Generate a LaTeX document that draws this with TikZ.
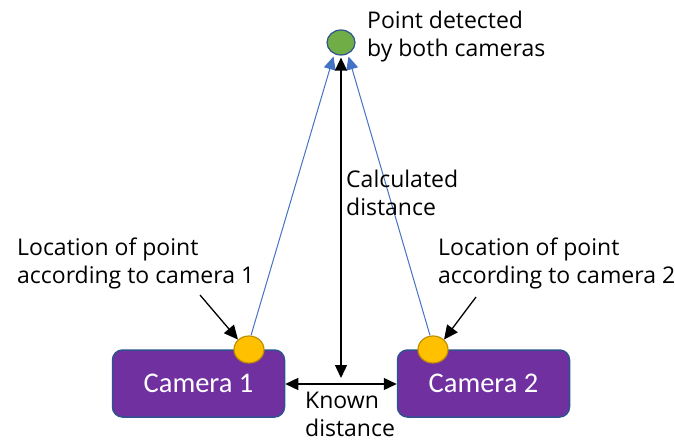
\documentclass[tikz,border=0pt]{standalone}
\usepackage{fontspec}
\usetikzlibrary{arrows.meta,shapes.geometric,calc}
\newfontfamily\labfont{Open Sans}
\newfontfamily\camfont{Carlito}
\definecolor{campurple}{HTML}{7030A0}
\definecolor{edgeblue}{HTML}{2F528F}
\definecolor{rayblue}{HTML}{4472C4}
\definecolor{dotorange}{HTML}{FFC000}
\definecolor{dotedge}{HTML}{BF9000}
\definecolor{ptgreen}{HTML}{70AD47}
\tikzset{
  camera/.style={draw=edgeblue, line width=1.5pt, fill=campurple, rounded corners=10pt,
    minimum width=172pt, minimum height=67pt, text=white,
    font=\camfont\fontsize{28.5}{32}\selectfont},
  dot/.style={ellipse, draw=dotedge, line width=1.2pt, fill=dotorange,
    minimum width=30pt, minimum height=27pt, inner sep=0pt},
  target/.style={ellipse, draw=edgeblue, line width=1.2pt, fill=ptgreen,
    minimum width=28pt, minimum height=25pt, inner sep=0pt},
  % multi-line labels: the base anchor sits on the last line
  label/.style={font=\labfont\fontsize{23}{28}\selectfont, align=left, inner sep=0pt, anchor=base west},
  ray/.style={draw=rayblue, line width=1pt, -{Triangle[width=12pt,length=13pt]}},
  measure/.style={draw=black, line width=1.3pt, {Triangle[width=12pt,length=13pt]}-{Triangle[width=12pt,length=13pt]}},
  pointer/.style={draw=black, line width=1.3pt, -{Triangle[width=13pt,length=14pt]}}
}
\begin{document}
\begin{tikzpicture}[x=1pt,y=-1pt]
\useasboundingbox (0,0) rectangle (675,442);

% cameras
\node[camera] (cam1) at (198.5,383.5) {Camera 1};
\node[camera] (cam2) at (483.5,383.5) {Camera 2};

% detected locations on top of each camera
\node[dot] (o1) at (249,349.5) {};
\node[dot] (o2) at (433,349.5) {};

% the point seen by both cameras
\node[target] (pt) at (341,42.5) {};

% rays from each camera to the point
\coordinate (tipL) at (333.5,56.5);
\coordinate (tipR) at (348.5,56.5);
\draw[ray] ($(o1.north)+(2,0)$) -- (tipL);
\draw[ray] ($(o2.north)+(-3,0)$) -- (tipR);

% distances
\coordinate (base) at (341,378);
\draw[measure] (cam1.east |- 0,384) -- (cam2.west |- 0,384);
\draw[measure] ($(pt.south)+(0,2)$) -- (base);

% labels
\node[label] (lpt) at (367,56) {Point detected\\by both cameras};
\node[label] (lcalc) at (346,215) {Calculated\\distance};
\node[label] (lknown) at (305,436.5) {Known\\distance};
\node[label] (lloc1) at (17,283) {Location of point\\according to camera 1};
\node[label] (lloc2) at (438,283) {Location of point\\according to camera 2};

% pointers from the location labels to the dots
\coordinate (p1) at (200,295);
\coordinate (p2) at (476,297);
\draw[pointer] (p1) -- (o1.north west);
\draw[pointer] (p2) -- (o2.north east);
\end{tikzpicture}
\end{document}
